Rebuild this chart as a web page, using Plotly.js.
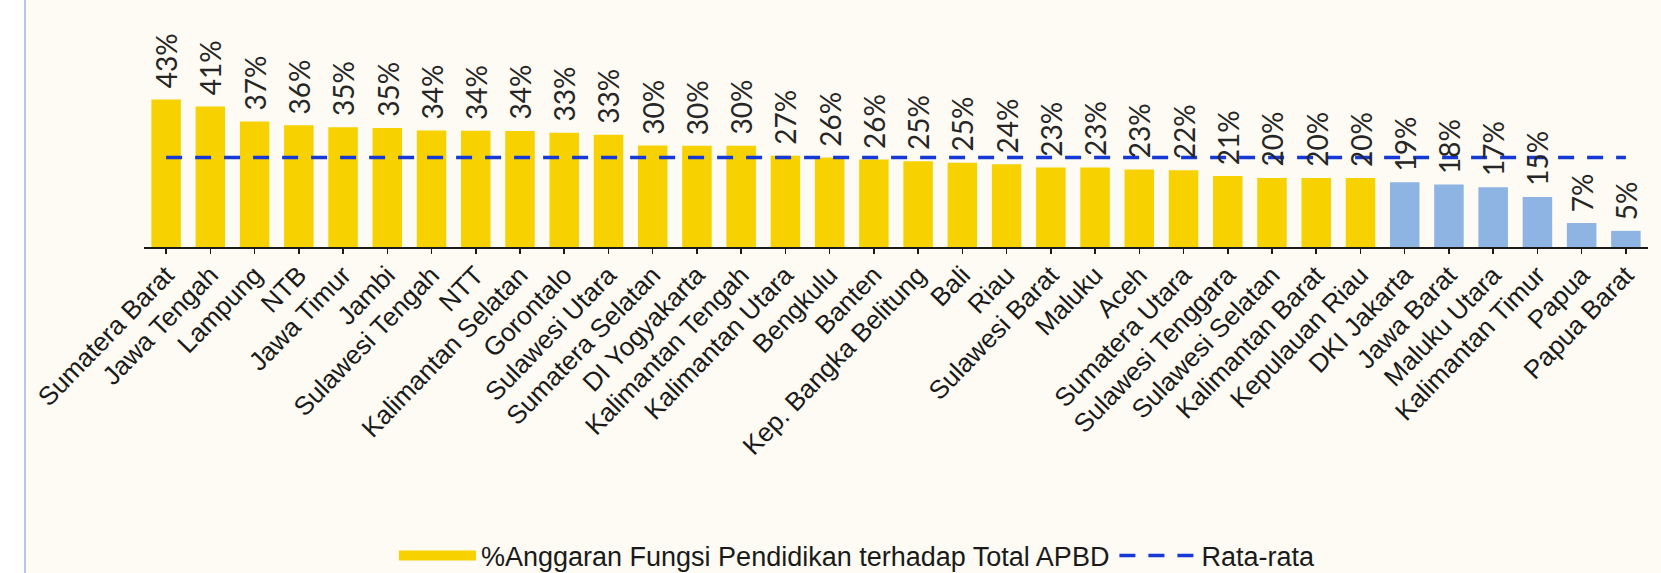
<!DOCTYPE html>
<html>
<head>
<meta charset="utf-8">
<script src="https://cdn.plot.ly/plotly-3.0.1.min.js"></script>
<style>
  html, body { margin: 0; padding: 0; background: #ffffff; width: 1661px; height: 573px; overflow: hidden; }
  #chart { position: absolute; left: 24px; top: 0; width: 1635px; height: 573px; border-left: 2px solid #b7c8ea; }
</style>
</head>
<body>
<div id="chart"></div>
<script>
const categories = ["Sumatera Barat","Jawa Tengah","Lampung","NTB","Jawa Timur","Jambi","Sulawesi Tengah","NTT","Kalimantan Selatan","Gorontalo","Sulawesi Utara","Sumatera Selatan","DI Yogyakarta","Kalimantan Tengah","Kalimantan Utara","Bengkulu","Banten","Kep. Bangka Belitung","Bali","Riau","Sulawesi Barat","Maluku","Aceh","Sumatera Utara","Sulawesi Tenggara","Sulawesi Selatan","Kalimantan Barat","Kepulauan Riau","DKI Jakarta","Jawa Barat","Maluku Utara","Kalimantan Timur","Papua","Papua Barat"];
const shareValues = [43.0,41.0,36.6,35.5,34.9,34.7,34.0,33.9,33.8,33.3,32.7,29.6,29.5,29.5,26.6,26.1,25.5,25.0,24.6,24.1,23.2,23.2,22.6,22.4,20.7,20.1,20.1,20.1,18.9,18.2,17.4,14.6,7.0,4.7];
const valueLabels = ["43%","41%","37%","36%","35%","35%","34%","34%","34%","33%","33%","30%","30%","30%","27%","26%","26%","25%","25%","24%","23%","23%","23%","22%","21%","20%","20%","20%","19%","18%","17%","15%","7%","5%"];
const averageValue = 26.1;
const averageSeries = categories.map(() => averageValue);
const seriesNames = ["%Anggaran Fungsi Pendidikan terhadap Total APBD", "Rata-rata"];

const YELLOW = "#f7d100";
const BLUE = "#8db4e2";
const barColors = shareValues.map(v => v < 19.5 ? BLUE : YELLOW);

const traces = [
  {
    type: "bar", x: categories, y: shareValues, name: seriesNames[0],
    marker: { color: barColors }, showlegend: false, legendgroup: "share"
  },
  {
    // legend entry for the bar series (wide swatch like the original)
    type: "scatter", mode: "lines", x: [null], y: [null], name: seriesNames[0],
    legendgroup: "share", line: { color: YELLOW, width: 13 }
  },
  {
    type: "scatter", mode: "lines", x: categories, y: averageSeries, name: seriesNames[1],
    line: { color: "#1538d6", width: 3.3, dash: "16px,13px" }
  }
];

const annotations = categories.map((c, i) => ({
  x: c, y: shareValues[i], xref: "x", yref: "y",
  text: valueLabels[i], showarrow: false, textangle: -90,
  xanchor: "center", yanchor: "bottom", yshift: 9,
  font: { family: "Lato, 'Open Sans', sans-serif", size: 28, color: "#262626" }
}));

const layout = {
  width: 1635, height: 573,
  margin: { l: 118, r: 13, t: 20, b: 326, autoexpand: false },
  paper_bgcolor: "#fdfbf3", plot_bgcolor: "#fdfbf3",
  bargap: 0.333,
  showlegend: true,
  legend: {
    orientation: "h", x: 0.1662, xanchor: "left", y: -1.361, yanchor: "middle",
    font: { family: "'Liberation Sans', Arial, sans-serif", size: 27, color: "#1a1a1a" },
    bgcolor: "rgba(0,0,0,0)", itemwidth: 77, traceorder: "normal"
  },
  xaxis: {
    type: "category", range: [-0.5, 33.5], showgrid: false, zeroline: false,
    showline: true, linecolor: "#1a1a1a", linewidth: 1.5,
    ticks: "outside", ticklen: 5, tickwidth: 1.5, tickcolor: "#1a1a1a",
    tickangle: -46, ticklabelstandoff: -4,
    tickfont: { family: "'Liberation Sans', Arial, sans-serif", size: 26, color: "#1a1a1a" }
  },
  yaxis: { visible: false, range: [0, 66.2], showgrid: false, zeroline: false },
  annotations: annotations
};

Plotly.newPlot("chart", traces, layout, { displayModeBar: false, staticPlot: true });
</script>
</body>
</html>
